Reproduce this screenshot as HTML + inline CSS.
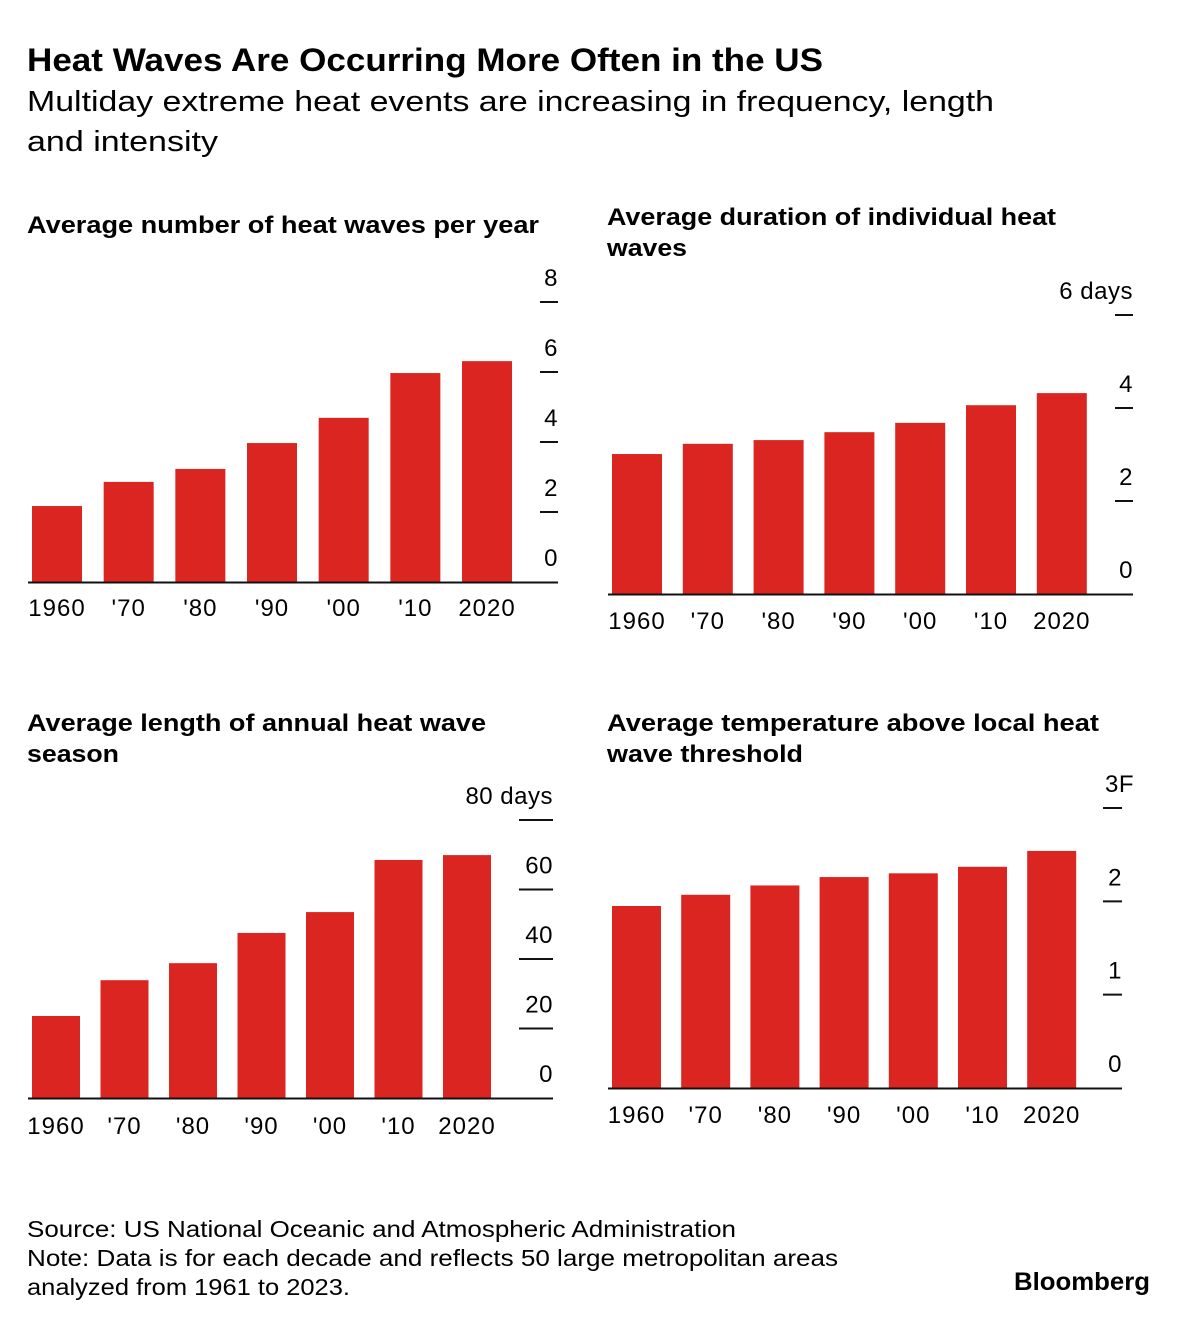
<!DOCTYPE html>
<html><head><meta charset="utf-8">
<style>
body{margin:0;background:#fff;width:1187px;height:1324px;overflow:hidden;font-family:"Liberation Sans",sans-serif;color:#111}
svg{position:absolute;left:0;top:0}
</style></head>
<body>
<svg width="1187" height="1324" font-family="Liberation Sans, sans-serif">
<text x="27" y="71" font-size="32" font-weight="bold" textLength="796" lengthAdjust="spacingAndGlyphs">Heat Waves Are Occurring More Often in the US</text>
<text x="27" y="111" font-size="29" textLength="967" lengthAdjust="spacingAndGlyphs">Multiday extreme heat events are increasing in frequency, length</text>
<text x="27" y="151" font-size="29" textLength="191" lengthAdjust="spacingAndGlyphs">and intensity</text>
<g id="panels"></g>
<text x="27" y="1237" font-size="23" textLength="709" lengthAdjust="spacingAndGlyphs">Source: US National Oceanic and Atmospheric Administration</text>
<text x="27" y="1266" font-size="23" textLength="811" lengthAdjust="spacingAndGlyphs">Note: Data is for each decade and reflects 50 large metropolitan areas</text>
<text x="27" y="1295" font-size="23" textLength="323" lengthAdjust="spacingAndGlyphs">analyzed from 1961 to 2023.</text>
<text x="1014" y="1290" font-size="25" font-weight="bold" textLength="136" lengthAdjust="spacingAndGlyphs">Bloomberg</text>
</svg>
<script>
const categories=["1960","'70","'80","'90","'00","'10","2020"];
const heatWaveCount=[2.17,2.86,3.23,3.97,4.69,5.97,6.31];
const heatWaveDuration=[3.01,3.23,3.31,3.48,3.68,4.06,4.32];
const seasonLength=[23.6,33.9,38.8,47.5,53.5,68.5,69.9];
const tempAbove=[1.95,2.07,2.17,2.26,2.30,2.37,2.54];
const ticks1=["0","2","4","6","8"],tickVals1=[0,2,4,6,8];
const ticks2=["0","2","4","6 days"],tickVals2=[0,2,4,6];
const ticks3=["0","20","40","60","80 days"],tickVals3=[0,20,40,60,80];
const ticks4=["0","1","2","3F"],tickVals4=[0,1,2,3];
const panels=[
 {name:"heat-wave-count",title:["Average number of heat waves per year"],tl:[512],ty:233,tx:27,values:heatWaveCount,ticks:ticks1,tv:tickVals1,max:8,base:582,top:302,x0:32,step:71.67,bw:50,lineL:28,tickL:540,tickR:558,labY:617},
 {name:"heat-wave-duration",title:["Average duration of individual heat","waves"],tl:[449,80],ty:225,tx:607,values:heatWaveDuration,ticks:ticks2,tv:tickVals2,max:6,base:594,top:315,x0:612,step:70.8,bw:50,lineL:608,tickL:1115,tickR:1133,labY:630},
 {name:"season-length",title:["Average length of annual heat wave","season"],tl:[459,92],ty:731,tx:27,values:seasonLength,ticks:ticks3,tv:tickVals3,max:80,base:1098,top:820,x0:32,step:68.5,bw:48,lineL:28,tickL:519,tickR:553,labY:1135},
 {name:"temp-above-threshold",title:["Average temperature above local heat","wave threshold"],tl:[492,196],ty:731,tx:607,values:tempAbove,ticks:ticks4,tv:tickVals4,max:3,base:1088,top:808,x0:612,step:69.2,bw:49,lineL:608,tickL:1103,tickR:1122,labY:1124}
];
const NS="http://www.w3.org/2000/svg";
const root=document.getElementById("panels");
function mk(tag,attrs,parent){const e=document.createElementNS(NS,tag);for(const k in attrs)e.setAttribute(k,attrs[k]);parent.appendChild(e);return e;}
panels.forEach(p=>{
 const g=mk("g",{},root);
 
 
 const y=v=>p.base-(v/p.max)*(p.base-p.top);
 p.title.forEach((t,i)=>{const e=mk("text",{x:p.tx,y:p.ty+i*31,"font-size":24,"font-weight":"bold",textLength:p.tl[i],lengthAdjust:"spacingAndGlyphs"},g);e.textContent=t;
  
  });
 p.values.forEach((v,i)=>{const r=mk("rect",{x:p.x0+i*p.step,y:y(v),width:p.bw,height:p.base-y(v),fill:"#da2520"},g);
  
  
  const l=mk("text",{x:p.x0+i*p.step+p.bw/2,y:p.labY-1,"font-size":24,"text-anchor":"middle","letter-spacing":"1"},g);l.textContent=categories[i];
  
  });
 const bl=mk("line",{x1:p.lineL,x2:p.tickR,y1:p.base+0.5,y2:p.base+0.5,stroke:"#111","stroke-width":2},g);
 
 
 p.tv.forEach((v,i)=>{
  if(v>0){const t=mk("line",{x1:p.tickL,x2:p.tickR,y1:y(v),y2:y(v),stroke:"#111","stroke-width":2},g);
   
   }
  const anchorStart=p.ticks[i]==="3F";
  const tx=mk("text",{x:anchorStart?p.tickL+2:p.tickR,y:y(v)-16,"font-size":24,"text-anchor":anchorStart?"start":"end","letter-spacing":"0.5"},g);
  tx.textContent=p.ticks[i];
  
  
 });
});
</script>
</body></html>
